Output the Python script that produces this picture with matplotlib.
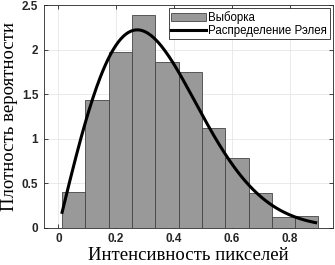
import numpy as np
import matplotlib.pyplot as plt

# histogram
bin_left = 0.013
bin_width = 0.0806
density = [0.40, 1.43, 1.97, 2.39, 1.86, 1.75, 1.12, 0.78, 0.39, 0.12, 0.13]

# fitted Rayleigh parameter
sigma = 0.273
x_start, x_end = 0.013, 0.89

edges = bin_left + bin_width * np.arange(len(density))
xs = np.linspace(x_start, x_end, 200)
pdf = xs / sigma**2 * np.exp(-xs**2 / (2 * sigma**2))

fig = plt.figure(figsize=(3.35, 2.65), dpi=100)
ax = fig.add_axes([0.131, 0.14, 0.863, 0.841])

bars = ax.bar(edges, density, width=bin_width, align='edge', color='#999999',
              edgecolor='#444444', linewidth=0.6, zorder=2)
line, = ax.plot(xs, pdf, 'k-', linewidth=2.2, zorder=3)

ax.set_xlim(-0.05, 0.95)
ax.set_ylim(0, 2.5)
ax.set_xticks([0, 0.2, 0.4, 0.6, 0.8])
ax.set_xticklabels(['0', '0.2', '0.4', '0.6', '0.8'])
ax.set_yticks([0, 0.5, 1, 1.5, 2, 2.5])
ax.set_yticklabels(['0', '0.5', '1', '1.5', '2', '2.5'])
for lbl in ax.get_xticklabels() + ax.get_yticklabels():
    lbl.set_family('Liberation Sans')
    lbl.set_fontweight('bold')
    lbl.set_fontsize(8.5)
ax.tick_params(direction='in', length=3, width=0.6, top=True, right=True,
               colors='#262626', pad=4)
ax.grid(True, color='#e6e6e6', linewidth=0.6, zorder=0)
ax.set_axisbelow(True)
for s in ax.spines.values():
    s.set_linewidth(0.6)
    s.set_color('#262626')

ax.set_xlabel('Интенсивность пикселей', family='Liberation Serif', fontsize=13.5, labelpad=1)
ax.set_ylabel('Плотность вероятности', family='Liberation Serif', fontsize=13.5, labelpad=3)

leg = ax.legend([bars, line], ['Выборка', 'Распределение Рэлея'], loc='upper right',
                prop={'family': 'Liberation Sans', 'size': 8.3},
                fancybox=False, framealpha=1, edgecolor='#262626',
                borderpad=0.2, handlelength=3.0, handletextpad=0.2,
                labelspacing=0.1, borderaxespad=0.3)
leg.get_frame().set_linewidth(0.6)

fig.savefig('out.png', dpi=100)
